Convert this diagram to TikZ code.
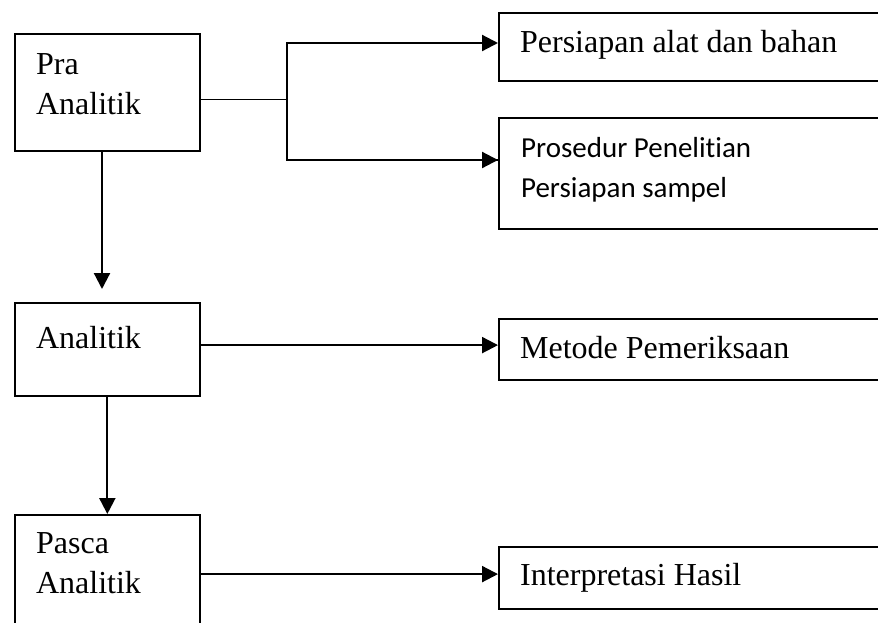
\documentclass[tikz,border=0pt]{standalone}
\usepackage{fontspec}
\setmainfont{Liberation Serif}
\newfontfamily\calibri[Ligatures=NoCommon]{Carlito}
\usetikzlibrary{arrows.meta}
\begin{document}
\begin{tikzpicture}[x=1pt, y=-1pt, font=\fontsize{32}{40}\selectfont, line width=2.2pt, >={Triangle[length=16pt,width=16pt]},
  tahap/.style={draw, rectangle, anchor=north west, inner sep=0pt, minimum width=185.5pt},
  hasil/.style={draw, rectangle, anchor=north west, inner sep=0pt, minimum width=420pt},
  teks/.style={anchor=base west, inner sep=0pt, align=left}]
 \clip (0,0) rectangle (878,622);
 % tahap
 \node[tahap, minimum height=117pt] (pra) at (13.5,33) {};
 \node[tahap, minimum height=93pt] (analitik) at (13.5,302) {};
 \node[tahap, minimum height=126pt] (pasca) at (13.5,514) {};
 \node[teks] (praT) at (35,114) {Pra\\Analitik};
 \node[teks] (analitikT) at (35,348) {Analitik};
 \node[teks] (pascaT) at (35,593) {Pasca\\Analitik};
 % hasil
 \node[hasil, minimum height=68pt] (alat) at (498,12) {};
 \node[hasil, minimum height=111pt] (prosedur) at (498,117) {};
 \node[hasil, minimum height=61pt] (metode) at (498,318) {};
 \node[hasil, minimum height=62pt] (interp) at (498,546) {};
 \node[teks] (alatT) at (519,52) {Persiapan alat dan bahan};
 \node[teks, font=\calibri\fontsize{29}{40}\selectfont] (prosedurT) at (520,197) {Prosedur Penelitian\\Persiapan sampel};
 \node[teks] (metodeT) at (519,358) {Metode Pemeriksaan};
 \node[teks] (interpT) at (519,585) {Interpretasi Hasil};
 % panah
 \coordinate (cabang) at (287,99.5);
 \coordinate (atas) at (287,43);
 \coordinate (bawah) at (287,160);
 \coordinate (turun) at (102,289);
 \draw[line width=1pt] (pra.east |- cabang) -- (cabang);
 \draw[->] (prosedur.west |- bawah) -| (atas) -- (atas -| alat.west);
 \draw[->] (bawah) -- (bawah -| prosedur.west);
 \draw[->] (pra.south -| turun) -- (turun);
 \draw[->] (analitik.south) -- (pasca.north);
 \draw[->] ([yshift=4.5pt]analitik.east) -- ([yshift=4.5pt]metode.west);
 \draw[->] ([yshift=4pt]pasca.east) -- ([yshift=4pt]interp.west);
\end{tikzpicture}
\end{document}
